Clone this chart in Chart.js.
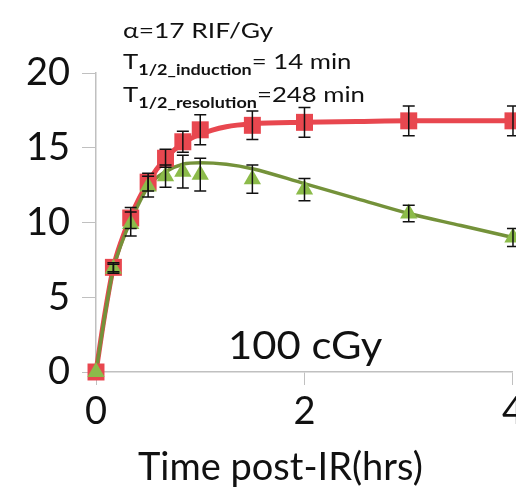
<!DOCTYPE html>
<html>
<head>
    <title>100 cGy time course</title>
    <script src="https://cdnjs.cloudflare.com/ajax/libs/Chart.js/4.4.1/chart.umd.min.js"></script>
    <style>
        html, body { margin: 0; padding: 0; overflow: hidden; background: #fff; }
        .chart-container { position: relative; width: 528px; height: 491px; }
        .note { position: absolute; font-family: Lato, "Open Sans", sans-serif; color: #111; white-space: nowrap;
                line-height: 1; transform-origin: 0 0; }
        .note sub { font-size: 0.7em; font-weight: bold; vertical-align: -0.4em; }
    </style>
</head>
<body>
    <div class="chart-container">
        <canvas id="myChart"></canvas>
        <div class="note" style="left:123px; top:19px; font-size:22px; transform:scaleX(1.2);">&alpha;=17 RIF/Gy</div>
        <div class="note" style="left:123px; top:50px; font-size:22px; transform:scaleX(1.17);">T<sub>1/2_induction</sub>= 14 min</div>
        <div class="note" style="left:123px; top:83px; font-size:22px; transform:scaleX(1.17);">T<sub>1/2_resolution</sub>=248 min</div>
        <div class="note" style="left:228px; top:325px; font-size:38px; transform:scaleX(1.1);">100 cGy</div>
        <div class="note" style="left:138px; top:446px; font-size:38px;">Time post-IR(hrs)</div>
    </div>

    <script>
        // measured time points (hrs)
        const times = [0, 0.167, 0.333, 0.5, 0.667, 0.833, 1, 1.5, 2, 3, 4];
        const redValues = [0, 7.0, 10.3, 12.7, 14.3, 15.4, 16.2, 16.5, 16.7, 16.8, 16.8];
        const redErrors = [0, 0.3, 0.7, 0.6, 0.6, 0.7, 1.0, 0.95, 1.0, 1.0, 1.0];
        const greenValues = [0, 6.9, 9.9, 12.4, 13.1, 13.4, 13.2, 12.9, 12.2, 10.6, 9.0];
        const greenErrors = [0, 0.3, 0.8, 0.7, 0.75, 1.1, 1.1, 0.95, 0.75, 0.55, 0.6];

        // fitted curves
        const fitTimes = [0, 0.083, 0.167, 0.25, 0.333, 0.5, 0.667, 0.833, 1, 1.25, 1.5, 2, 2.5, 3, 3.5, 4];
        const redFit = [0, 3.8, 7.0, 8.9, 10.4, 12.7, 14.3, 15.3, 15.9, 16.4, 16.6, 16.7, 16.75, 16.8, 16.8, 16.8];
        const greenFit = [0, 3.7, 6.9, 8.7, 10.1, 12.4, 13.4, 13.9, 14.0, 13.9, 13.6, 12.6, 11.6, 10.6, 9.8, 9.0];

        const xTicks = [0, 2, 4];
        const yTicks = [0, 5, 10, 15, 20];

        const toXY = (xs, ys, errs) => xs.map((x, i) => ({ x: x, y: ys[i], err: errs ? errs[i] : 0 }));

        // vertical error bars with caps, positioned by the chart scales
        const errorBars = {
            id: 'errorBars',
            afterDatasetsDraw(chart) {
                const ctx = chart.ctx;
                const xs = chart.scales.x, ys = chart.scales.y;
                ctx.save();
                ctx.strokeStyle = '#111';
                ctx.lineWidth = 1.5;
                chart.data.datasets.forEach(ds => {
                    if (!ds.errorBars) return;
                    ds.data.forEach(p => {
                        if (!p.err) return;
                        const px = xs.getPixelForValue(p.x);
                        const top = ys.getPixelForValue(p.y + p.err);
                        const bot = ys.getPixelForValue(p.y - p.err);
                        ctx.beginPath();
                        ctx.moveTo(px, top); ctx.lineTo(px, bot);
                        ctx.moveTo(px - 6, top); ctx.lineTo(px + 6, top);
                        ctx.moveTo(px - 6, bot); ctx.lineTo(px + 6, bot);
                        ctx.stroke();
                    });
                });
                ctx.restore();
            }
        };

        const ctx = document.getElementById('myChart').getContext('2d');
        new Chart(ctx, {
            type: 'scatter',
            data: {
                datasets: [
                    {
                        label: 'Red fit',
                        data: toXY(fitTimes, redFit),
                        showLine: true,
                        borderColor: '#e8474f',
                        borderWidth: 5,
                        pointRadius: 0,
                        cubicInterpolationMode: 'monotone',
                        order: 4
                    },
                    {
                        label: 'Green fit',
                        data: toXY(fitTimes, greenFit),
                        showLine: true,
                        borderColor: '#74923a',
                        borderWidth: 3.5,
                        pointRadius: 0,
                        cubicInterpolationMode: 'monotone',
                        order: 3
                    },
                    {
                        label: 'Red',
                        data: toXY(times, redValues, redErrors),
                        errorBars: true,
                        pointStyle: 'rect',
                        pointRadius: 12,
                        backgroundColor: '#e8474f',
                        borderColor: '#e8474f',
                        borderWidth: 0,
                        order: 2
                    },
                    {
                        label: 'Green',
                        data: toXY(times, greenValues, greenErrors),
                        errorBars: true,
                        pointStyle: 'triangle',
                        pointRadius: 10,
                        backgroundColor: '#8cbb4a',
                        borderColor: '#8cbb4a',
                        borderWidth: 0,
                        order: 1
                    }
                ]
            },
            plugins: [errorBars],
            options: {
                responsive: true,
                maintainAspectRatio: false,
                animation: false,
                clip: false,
                layout: { padding: { top: 73, left: 0, right: 0, bottom: 0 } },
                plugins: {
                    legend: { display: false },
                    tooltip: { enabled: false }
                },
                scales: {
                    x: {
                        type: 'linear',
                        min: 0,
                        max: 4,
                        afterBuildTicks: s => { s.ticks = xTicks.map(v => ({ value: v })); },
                        afterFit: s => { s.height = 119; },
                        ticks: { color: '#111', font: { family: 'Lato', size: 38 }, padding: 4 },
                        grid: { drawOnChartArea: false, drawTicks: true, tickLength: 13, color: '#c0c0c0' },
                        border: { color: '#c0c0c0', width: 1.5 }
                    },
                    y: {
                        min: 0,
                        max: 20,
                        afterBuildTicks: s => { s.ticks = yTicks.map(v => ({ value: v })); },
                        afterFit: s => { s.width = 96; },
                        ticks: { color: '#111', font: { family: 'Lato', size: 38 }, padding: 12 },
                        grid: { drawOnChartArea: false, drawTicks: true, tickLength: 14, color: '#c0c0c0' },
                        border: { color: '#c0c0c0', width: 1.5 }
                    }
                }
            }
        });
    </script>
</body>
</html>
